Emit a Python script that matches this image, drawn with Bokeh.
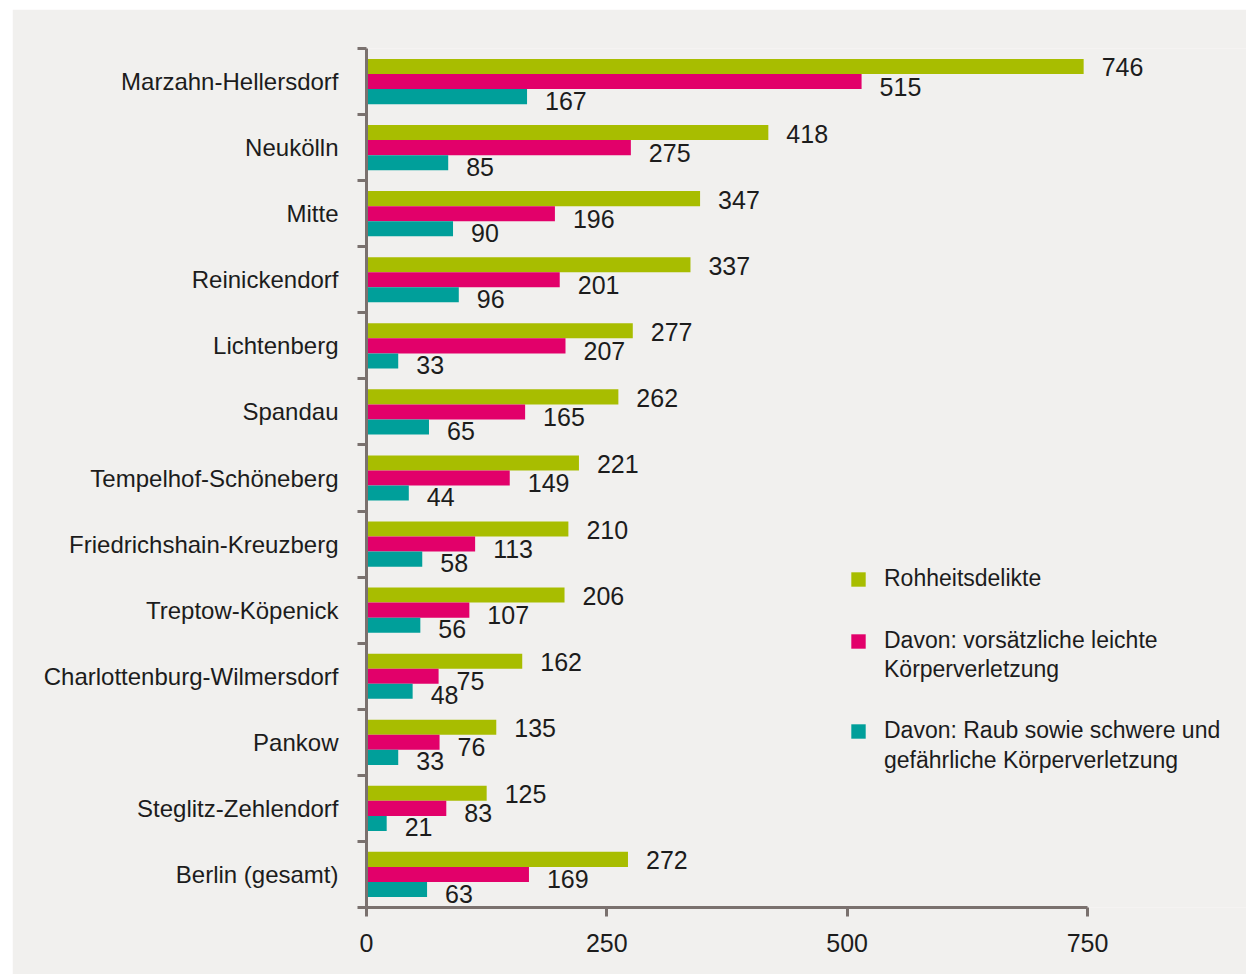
from bokeh.plotting import figure
from bokeh.models import (ColumnDataSource, Range1d, LinearAxis, FixedTicker,
                          Legend, LegendItem, Label)
from bokeh.transform import dodge
from bokeh.embed import file_html
from bokeh.resources import INLINE
from bokeh.core.properties import value

# Berlin districts, top to bottom
districts = ["Marzahn-Hellersdorf", "Neukölln", "Mitte", "Reinickendorf",
             "Lichtenberg", "Spandau", "Tempelhof-Schöneberg",
             "Friedrichshain-Kreuzberg", "Treptow-Köpenick",
             "Charlottenburg-Wilmersdorf", "Pankow", "Steglitz-Zehlendorf",
             "Berlin (gesamt)"]
rohheit = [746, 418, 347, 337, 277, 262, 221, 210, 206, 162, 135, 125, 272]
leicht = [515, 275, 196, 201, 207, 165, 149, 113, 107, 75, 76, 83, 169]
raub = [167, 85, 90, 96, 33, 65, 44, 58, 56, 48, 33, 21, 63]
# legend entries: first line next to the swatch, optional second line below
series_first = ["Rohheitsdelikte",
                "Davon: vorsätzliche leichte",
                "Davon: Raub sowie schwere und"]
series_second = [None,
                 "Körperverletzung",
                 "gefährliche Körperverletzung"]
x_ticks = [0, 250, 500, 750]

GREEN = "#a8bd00"
PINK = "#e2006a"
TEAL = "#009f9a"
AXIS = "#7a716e"
PANEL = "#f1f0ee"
INK = "#1c1c1c"
FONT = "Liberation Sans"

n = len(districts)
pos = [n - 1 - i for i in range(n)]          # first district on top

src = ColumnDataSource(dict(
    pos=pos, name=districts,
    rohheit=rohheit, leicht=leicht, raub=raub,
    rohheit_t=[str(v) for v in rohheit],
    leicht_t=[str(v) for v in leicht],
    raub_t=[str(v) for v in raub],
))

p = figure(width=1234, height=965, margin=(9, 0, 0, 12),
           x_range=Range1d(0, 915.4), y_range=Range1d(-0.5, n - 0.5),
           output_backend="svg", toolbar_location=None,
           background_fill_color=PANEL, border_fill_color=PANEL,
           outline_line_color=None,
           min_border_left=354, min_border_right=0,
           min_border_top=39, min_border_bottom=67,
           x_axis_type=None, y_axis_type=None)
p.xgrid.visible = False
p.ygrid.visible = False

BAR_H = 0.228
r1 = p.hbar(y=dodge("pos", BAR_H, range=p.y_range), right="rohheit", left=0,
            height=BAR_H, source=src, fill_color=GREEN, line_color=None)
r2 = p.hbar(y="pos", right="leicht", left=0,
            height=BAR_H, source=src, fill_color=PINK, line_color=None)
r3 = p.hbar(y=dodge("pos", -BAR_H, range=p.y_range), right="raub", left=0,
            height=BAR_H, source=src, fill_color=TEAL, line_color=None)

# value labels right of each bar
label_kw = dict(source=src, text_font=value(FONT), text_font_size="25px",
                text_color=INK, text_baseline="middle", text_align="left",
                x_offset=18)
p.text(x="rohheit", y=dodge("pos", BAR_H, range=p.y_range), text="rohheit_t",
       y_offset=1, **label_kw)
p.text(x="leicht", y="pos", text="leicht_t", y_offset=5, **label_kw)
p.text(x="raub", y=dodge("pos", -BAR_H, range=p.y_range), text="raub_t",
       y_offset=4, **label_kw)

# category axis: labels at band centres, tick marks at band boundaries
yaxis = LinearAxis(
    ticker=FixedTicker(ticks=pos, minor_ticks=[k - 0.5 for k in range(n + 1)]),
    major_label_overrides={k: nm for k, nm in zip(pos, districts)},
    axis_line_color=AXIS, axis_line_width=3,
    major_tick_line_color=None, major_tick_out=0, major_tick_in=0,
    minor_tick_line_color=AXIS, minor_tick_line_width=3,
    minor_tick_out=9, minor_tick_in=0,
    major_label_standoff=19,
    major_label_text_font=FONT, major_label_text_font_size="24px",
    major_label_text_color=INK, major_label_text_font_style="normal",
)
p.add_layout(yaxis, "left")

xaxis = LinearAxis(
    ticker=FixedTicker(ticks=x_ticks, minor_ticks=[]), bounds=(0, 750),
    axis_line_color=AXIS, axis_line_width=3,
    major_tick_line_color=AXIS, major_tick_line_width=3,
    major_tick_out=9, major_tick_in=0,
    minor_tick_line_color=None,
    major_label_standoff=17,
    major_label_text_font=FONT, major_label_text_font_size="25px",
    major_label_text_color=INK, major_label_text_font_style="normal",
)
p.add_layout(xaxis, "below")

# legend: one entry per series, swatch aligned with the first text line
legend_bottoms = [315, 253, 163]     # px above the frame's bottom edge
second_line_y = [None, 239, 148]
for rend, first, second, yb, y2 in zip([r1, r2, r3], series_first,
                                       series_second, legend_bottoms,
                                       second_line_y):
    lg = Legend(
        items=[LegendItem(label=first, renderers=[rend])],
        location=(483, yb), orientation="vertical",
        glyph_width=18, glyph_height=18, label_standoff=17,
        padding=0, margin=0, border_line_color=None, background_fill_alpha=0,
        label_text_font=FONT, label_text_font_size="23px",
        label_text_color=INK, label_text_line_height=1.25,
    )
    p.add_layout(lg, "center")
    if second is not None:
        p.add_layout(Label(x=517.5, y=y2, x_units="screen", y_units="screen",
                           text=second, text_font=FONT, text_font_size="23px",
                           text_color=INK, text_baseline="middle",
                           text_align="left"))

open("out.html", "w").write(file_html(p, INLINE))
